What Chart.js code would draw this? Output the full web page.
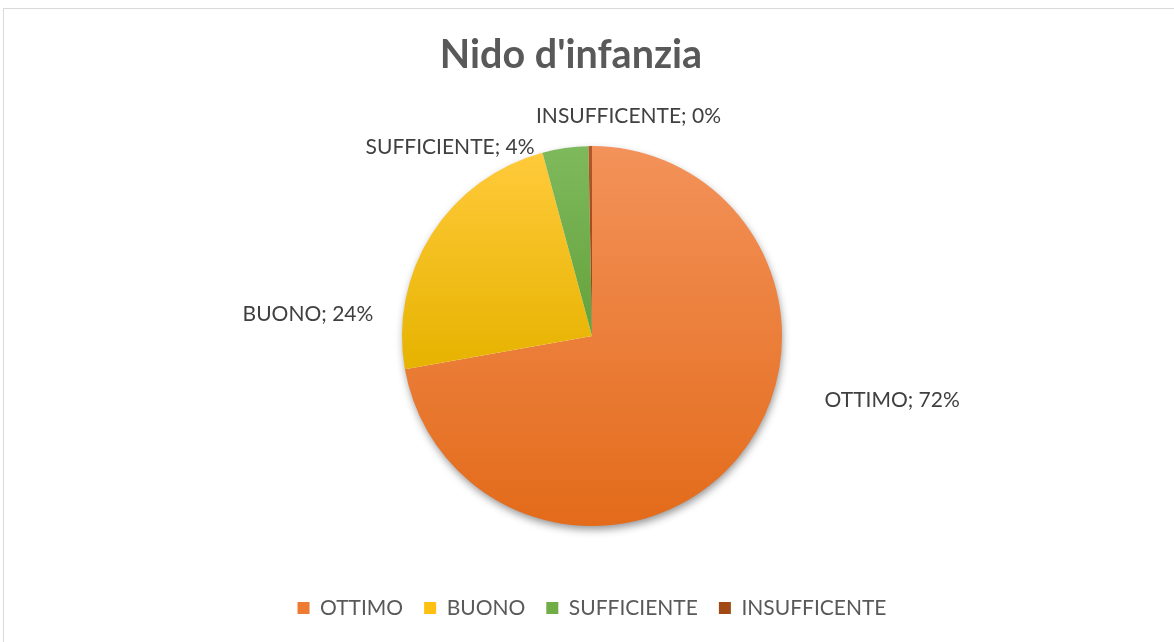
<!DOCTYPE html>
<html lang="it">
<head>
<meta charset="utf-8">
<title>Nido d'infanzia</title>
<script src="https://cdn.jsdelivr.net/npm/chart.js@4.4.0/dist/chart.umd.min.js"></script>
<style>
    html, body { margin: 0; padding: 0; background: #fff; overflow: hidden; }
    #marco { position: absolute; left: 3px; top: 8px; width: 1300px; height: 800px; border: 1px solid #d9d9d9; box-sizing: border-box; }
    #grafico { position: absolute; left: 0; top: 0; }
</style>
</head>
<body>
<div id="marco"></div>
<canvas id="grafico" width="1174" height="642"></canvas>
<script>
//////////////////////////////////////////////////////////////////////////////////////
/// DATI /////////////////////////////////////////////////////////////////////////////
//////////////////////////////////////////////////////////////////////////////////////
const titolo = "Nido d'infanzia";
const categorie = ["OTTIMO", "BUONO", "SUFFICIENTE", "INSUFFICENTE"];
const valori = [72.2, 23.6, 3.9, 0.3];

// colori (gradiente per fetta: chiaro in alto, scuro in basso)
const coloriAlto = ["#F3925A", "#FFCA3A", "#7FB95D", "#B0592A"];
const coloriBasso = ["#E36B1A", "#E6B300", "#64A23B", "#96420D"];
const coloriLegenda = ["#EE7B33", "#FDC010", "#70AD47", "#A04A15"];

// posizione etichette rispetto al centro, in raggi
const posEtichette = [[1.58, 0.337], [-1.495, -0.116], [-0.747, -0.995], [0.192, -1.158]];

const RAGGIO = 190;
const totale = valori.reduce((a, b) => a + b, 0);

//////////////////////////////////////////////////////////////////////////////////////
/// FUNZIONI /////////////////////////////////////////////////////////////////////////
//////////////////////////////////////////////////////////////////////////////////////
function gradienteFetta(c) {
    const area = c.chart.chartArea;
    const i = c.dataIndex;
    if (!area) return coloriLegenda[i];

    const cx = (area.left + area.right) / 2;
    const cy = (area.top + area.bottom) / 2;
    let prima = 0;
    for (let k = 0; k < i; k++) prima += valori[k];
    const a0 = prima / totale * 2 * Math.PI - Math.PI / 2;
    const a1 = (prima + valori[i]) / totale * 2 * Math.PI - Math.PI / 2;

    const ys = [cy, cy + RAGGIO * Math.sin(a0), cy + RAGGIO * Math.sin(a1)];
    if (a0 <= Math.PI / 2 && a1 >= Math.PI / 2) ys.push(cy + RAGGIO);
    if (a0 <= -Math.PI / 2 + 1e-6 || a1 >= 1.5 * Math.PI - 1e-6) ys.push(cy - RAGGIO);

    const g = c.chart.ctx.createLinearGradient(0, Math.min(...ys), 0, Math.max(...ys));
    g.addColorStop(0, coloriAlto[i]);
    g.addColorStop(1, coloriBasso[i]);
    return g;
}

const pluginOmbra = {
    id: "ombra",
    beforeDatasetsDraw(chart) {
        const arc = chart.getDatasetMeta(0).data[0];
        if (!arc) return;
        const ctx = chart.ctx;
        ctx.save();
        ctx.shadowColor = "rgba(0,0,0,0.45)";
        ctx.shadowBlur = 9;
        ctx.shadowOffsetX = 1;
        ctx.shadowOffsetY = 4;
        ctx.fillStyle = "#ffffff";
        ctx.beginPath();
        ctx.arc(arc.x, arc.y, arc.outerRadius - 1, 0, Math.PI * 2);
        ctx.fill();
        ctx.restore();
    }
};

const pluginEtichette = {
    id: "etichette",
    afterDatasetsDraw(chart) {
        const ctx = chart.ctx;
        ctx.save();
        ctx.font = "21px Lato";
        ctx.fillStyle = "#404040";
        ctx.textAlign = "center";
        ctx.textBaseline = "middle";
        chart.getDatasetMeta(0).data.forEach((arc, i) => {
            const pct = Math.round(valori[i] / totale * 100);
            ctx.fillText(`${categorie[i]}; ${pct}%`,
                arc.x + posEtichette[i][0] * arc.outerRadius,
                arc.y + posEtichette[i][1] * arc.outerRadius);
        });
        ctx.restore();
    }
};

// il titolo in Excel e' un po' piu' a sinistra della torta
const pluginTitolo = {
    id: "spostaTitolo",
    afterLayout(chart) {
        if (chart.titleBlock) chart.titleBlock.left -= 42;
    }
};

//////////////////////////////////////////////////////////////////////////////////////
/// GRAFICO //////////////////////////////////////////////////////////////////////////
//////////////////////////////////////////////////////////////////////////////////////
Chart.defaults.font.family = "Lato";

new Chart(document.getElementById("grafico"), {
    type: "pie",
    data: {
        labels: categorie,
        datasets: [{
            data: valori,
            backgroundColor: gradienteFetta,
            borderWidth: 0,
            radius: RAGGIO
        }]
    },
    options: {
        responsive: false,
        animation: false,
        layout: { padding: { left: 10, right: 0, top: 0, bottom: 13.4 } },
        plugins: {
            title: {
                display: true,
                text: titolo,
                color: "#595959",
                font: { size: 39.5, weight: "bold" },
                padding: { top: 31.6, bottom: 16.6 }
            },
            legend: {
                position: "bottom",
                labels: {
                    color: "#595959",
                    font: { size: 21 },
                    boxWidth: 12,
                    boxHeight: 12,
                    padding: 21,
                    generateLabels: (chart) => Chart.overrides.doughnut.plugins.legend.labels
                        .generateLabels(chart)
                        .map((item, i) => ({ ...item, fillStyle: coloriLegenda[i], strokeStyle: coloriLegenda[i], lineWidth: 0 }))
                }
            },
            tooltip: { enabled: false }
        }
    },
    plugins: [pluginOmbra, pluginEtichette, pluginTitolo]
});
</script>
</body>
</html>
